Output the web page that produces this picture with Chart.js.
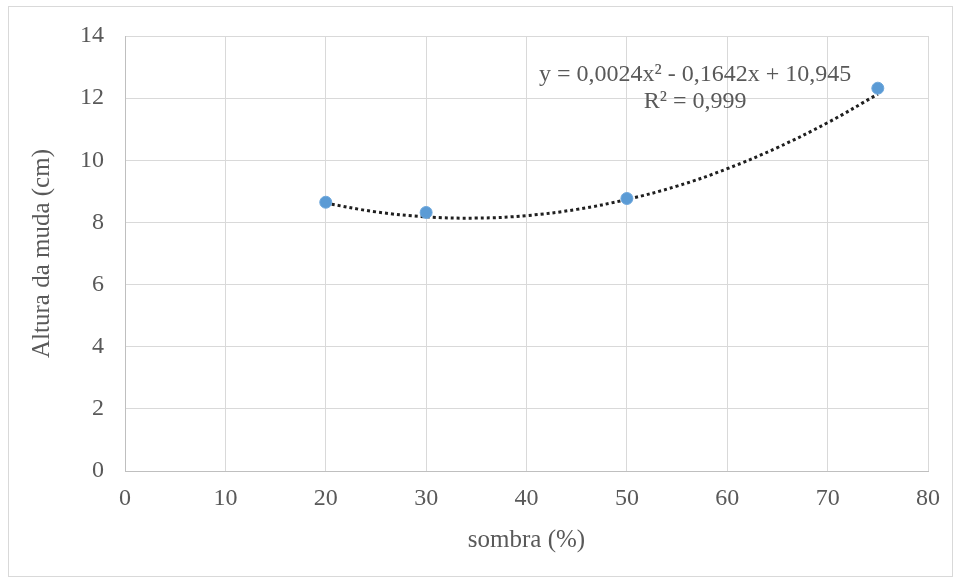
<!DOCTYPE html>
<html>
<head>
<meta charset="utf-8">
<script src="https://cdn.jsdelivr.net/npm/chart.js@4"></script>
<style>
  body { margin: 0; background: #fff; }
  #wrap { position: relative; width: 959px; height: 581px; }
  #frame { position: absolute; left: 8px; top: 6px; width: 943px; height: 569px; border: 1px solid #d9d9d9; pointer-events: none; }
</style>
</head>
<body>
<div id="wrap">
  <canvas id="chart" width="959" height="581"></canvas>
  <div id="frame"></div>
</div>
<script>
// measured points
const shade = [20, 30, 50, 75];
const height = [8.65, 8.32, 8.77, 12.32];

// dotted trend curve
const trendX = [20, 25, 30, 35, 40, 45, 50, 55, 60, 65, 70, 75];
const trendY = [8.62, 8.34, 8.18, 8.14, 8.22, 8.42, 8.74, 9.17, 9.73, 10.41, 11.21, 12.13];

const eqText = ['y = 0,0024x² - 0,1642x + 10,945', 'R² = 0,999'];
const eqPos = { x: 56.8, y: [12.77, 11.87] };

const xTicks = [0, 10, 20, 30, 40, 50, 60, 70, 80];
const yTicks = [0, 2, 4, 6, 8, 10, 12, 14];

const serif = '"Liberation Serif", "Times New Roman", serif';
const textColor = '#595959';

const canvas = document.getElementById('chart');
const ctx = canvas.getContext('2d');

// draws the trendline equation label
const equationLabel = {
  id: 'equationLabel',
  afterDatasetsDraw(chart) {
    const { ctx, scales } = chart;
    ctx.save();
    ctx.font = '24px ' + serif;
    ctx.fillStyle = textColor;
    ctx.textAlign = 'center';
    ctx.textBaseline = 'middle';
    eqText.forEach((t, i) => {
      ctx.fillText(t, scales.x.getPixelForValue(eqPos.x), scales.y.getPixelForValue(eqPos.y[i]));
    });
    ctx.restore();
  }
};

let chart = new Chart(ctx, {
  type: 'scatter',
  data: {
    datasets: [{
      label: 'trend',
      type: 'line',
      data: trendX.map((x, i) => ({ x: x, y: trendY[i] })),
      borderColor: '#1f1f1f',
      borderWidth: 3,
      borderDash: [3, 3],
      pointRadius: 0,
      tension: 0.4,
      fill: false,
      order: 2
    }, {
      label: 'Altura',
      data: shade.map((x, i) => ({ x: x, y: height[i] })),
      backgroundColor: '#5b9bd5',
      borderColor: '#6fa8dc',
      borderWidth: 1,
      pointRadius: 6,
      order: 1
    }]
  },
  options: {
    responsive: false,
    animation: false,
    layout: { padding: { left: 0, top: 36, right: 31, bottom: 0 } },
    plugins: { legend: { display: false }, tooltip: { enabled: false } },
    scales: {
      x: {
        type: 'linear',
        min: 0,
        max: 80,
        afterBuildTicks: (axis) => { axis.ticks = xTicks.map(v => ({ value: v })); },
        afterFit: (axis) => { axis.height = 110; },
        grid: { color: '#d9d9d9', drawTicks: false },
        border: { color: '#bfbfbf' },
        ticks: { padding: 13, color: textColor, font: { family: serif, size: 24 } },
        title: {
          display: true,
          text: 'sombra (%)',
          color: textColor,
          font: { family: serif, size: 25 },
          padding: { top: 0, bottom: 26 }
        }
      },
      y: {
        min: 0,
        max: 14,
        afterBuildTicks: (axis) => { axis.ticks = yTicks.map(v => ({ value: v })); },
        afterFit: (axis) => { axis.width = 125; },
        grid: { color: '#d9d9d9', drawTicks: false },
        border: { color: '#bfbfbf' },
        ticks: { padding: 21, color: textColor, font: { family: serif, size: 24 } },
        title: {
          display: true,
          text: 'Altura da muda (cm)',
          color: textColor,
          font: { family: serif, size: 25 },
          padding: { top: 27, bottom: 0 }
        }
      }
    }
  },
  plugins: [equationLabel]
});
</script>
</body>
</html>
